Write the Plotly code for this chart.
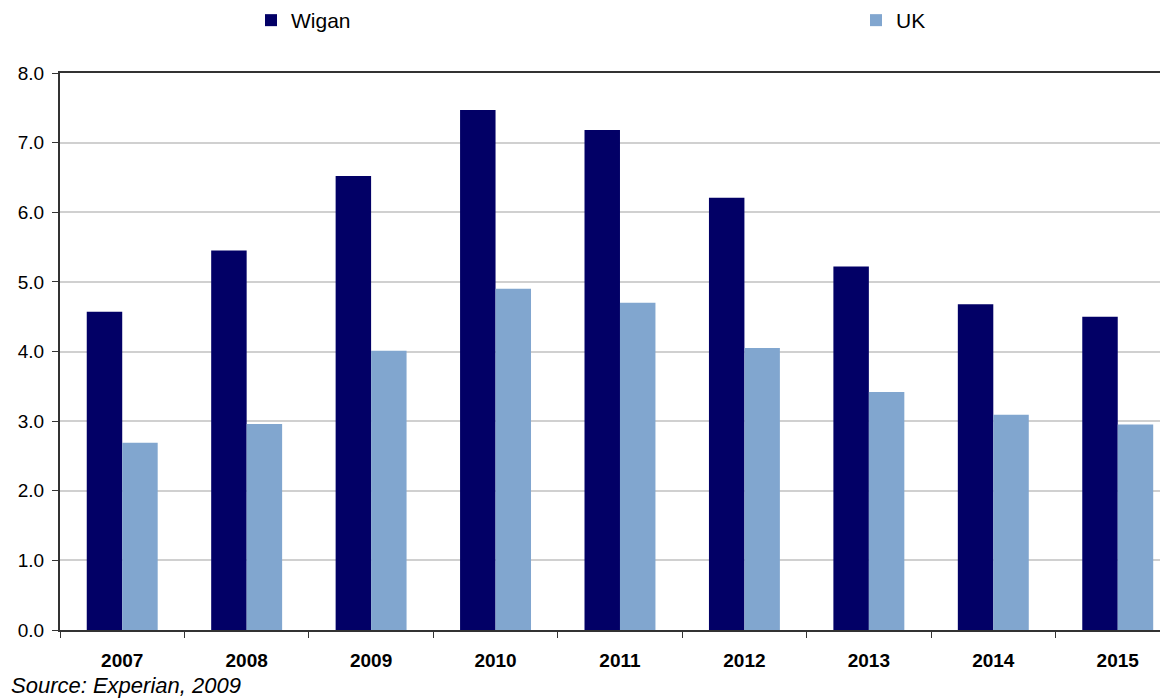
import plotly.graph_objects as go

years = ["2007", "2008", "2009", "2010", "2011", "2012", "2013", "2014", "2015"]
wigan = [4.57, 5.45, 6.52, 7.47, 7.18, 6.21, 5.22, 4.68, 4.50]
uk = [2.69, 2.96, 4.01, 4.90, 4.70, 4.05, 3.42, 3.09, 2.95]

W, H = 1160, 698
L, R, T, B = 60, 0, 73, 68

fig = go.Figure()
fig.add_trace(go.Bar(x=years, y=wigan, name="Wigan", legend="legend",
                     marker=dict(color="#020066", line=dict(width=0))))
fig.add_trace(go.Bar(x=years, y=uk, name="UK", legend="legend2",
                     marker=dict(color="#81A6CF", line=dict(width=0))))

leg_common = dict(
    orientation="h", xref="container", yref="container",
    xanchor="left", y=1 - 0 / H, yanchor="top", itemwidth=30,
    font=dict(size=21), bgcolor="rgba(0,0,0,0)",
)

fig.update_layout(
    width=W, height=H,
    margin=dict(l=L, r=R, t=T, b=B, pad=0, autoexpand=False),
    paper_bgcolor="white", plot_bgcolor="white",
    barmode="group", bargap=0.43, bargroupgap=0,
    font=dict(family="Liberation Sans, Arial, sans-serif", color="black"),
    legend=dict(x=251 / W, **leg_common),
    legend2=dict(x=856 / W, **leg_common),
    showlegend=True,
)

fig.update_xaxes(
    type="category", range=[-0.5, -0.5 + (W - L) / 124.44],
    showline=True, linecolor="#333333", linewidth=2, mirror=True,
    ticks="outside", tickson="boundaries", ticklen=6, tickcolor="#333333", tickwidth=1,
    tickfont=dict(size=19, family="Liberation Sans, Arial, sans-serif", weight="bold"),
    ticklabelstandoff=12, showgrid=False,
)
fig.update_yaxes(
    range=[0, 8], dtick=1, tickformat=".1f",
    showline=True, linecolor="#333333", linewidth=2,
    ticks="outside", ticklen=6, tickcolor="#333333", tickwidth=1,
    tickfont=dict(size=19), ticklabelstandoff=4,
    showgrid=True, gridcolor="#D0D0D0", gridwidth=1.5, zeroline=False,
)

fig.add_annotation(
    text="<i>Source: Experian, 2009</i>", xref="paper", yref="paper",
    x=(9 - L) / (W - L - R), y=(630 - 685) / (H - T - B),
    xanchor="left", yanchor="middle", showarrow=False,
    font=dict(size=22, color="black"),
)

fig.write_html("out.html", config={"displayModeBar": False},
               post_script="document.body.style.margin='0';document.body.style.overflow='hidden';")
